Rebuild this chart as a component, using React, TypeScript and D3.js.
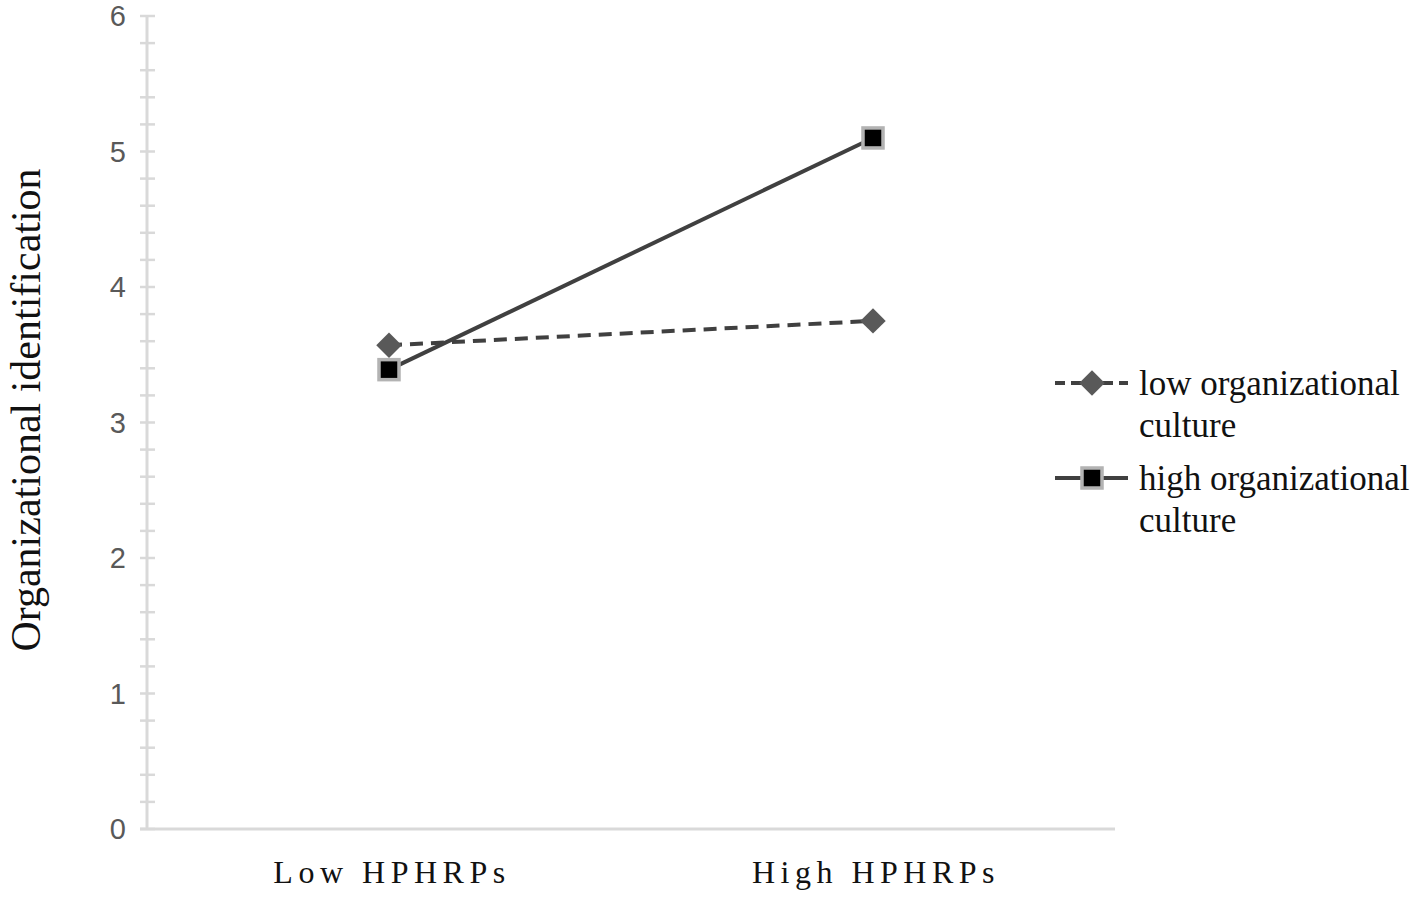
import React from "react";
import * as d3 from "d3";

const categories = ["Low HPHRPs", "High HPHRPs"];
const lowCulture = [3.57, 3.75];
const highCulture = [3.39, 5.1];
const seriesNames = ["low organizational culture", "high organizational culture"];
const yTicks = [0, 1, 2, 3, 4, 5, 6];

const W = 1418;
const H = 899;
const left = 147;
const right = 1115;
const top = 16;
const bottom = 829;

const App = () => {
  const x = d3.scaleBand().domain(categories).range([left, right]);
  const y = d3.scaleLinear().domain([0, 6]).range([bottom, top]);
  const minor = d3.range(0, 6.0001, 0.2);
  const line = d3
    .line<number>()
    .x((_, i) => (x(categories[i]) as number) + x.bandwidth() / 2)
    .y((d) => y(d));

  const series = [
    { name: seriesNames[0], values: lowCulture, dash: "13,8", marker: "diamond" },
    { name: seriesNames[1], values: highCulture, dash: "", marker: "square" },
  ];

  const marker = (type: string, cx: number, cy: number, key: string) =>
    type === "diamond" ? (
      <rect
        key={key}
        x={cx - 9}
        y={cy - 9}
        width={18}
        height={18}
        fill="#595959"
        transform={`rotate(45 ${cx} ${cy})`}
      />
    ) : (
      <rect
        key={key}
        x={cx - 10}
        y={cy - 10}
        width={20}
        height={20}
        fill="#000"
        stroke="#b3b3b3"
        strokeWidth={3.5}
      />
    );

  const legendY = [383, 478];
  const legendLines = [
    ["low organizational", "culture"],
    ["high organizational", "culture"],
  ];

  return (
    <svg width={W} height={H} style={{ position: "absolute", left: 0, top: 0, background: "#fff" }}>
      {/* axes */}
      <line x1={left} x2={left} y1={top} y2={bottom} stroke="#d9d9d9" strokeWidth={3} />
      <line x1={140} x2={right} y1={bottom} y2={bottom} stroke="#d9d9d9" strokeWidth={3} />
      {minor.map((v, i) => (
        <line key={i} x1={140} x2={155} y1={y(v)} y2={y(v)} stroke="#d9d9d9" strokeWidth={2.5} />
      ))}
      {yTicks.map((t) => (
        <text
          key={t}
          x={126}
          y={y(t) + 10}
          textAnchor="end"
          fontFamily="Liberation Sans, Arial, sans-serif"
          fontSize={29}
          fill="#595959"
        >
          {t}
        </text>
      ))}
      {categories.map((c) => (
        <text
          key={c}
          x={(x(c) as number) + x.bandwidth() / 2 + 3}
          y={883}
          textAnchor="middle"
          fontFamily="Liberation Serif, Times New Roman, serif"
          fontSize={32}
          letterSpacing={5.5}
          fill="#111"
        >
          {c}
        </text>
      ))}
      <text
        transform="translate(40,410) rotate(-90)"
        textAnchor="middle"
        fontFamily="Liberation Serif, Times New Roman, serif"
        fontSize={42}
        fill="#111"
      >
        Organizational identification
      </text>

      {/* series */}
      {series.map((s) => (
        <g key={s.name}>
          <path d={line(s.values) || ""} fill="none" stroke="#404040" strokeWidth={4} strokeDasharray={s.dash} />
          {s.values.map((v, i) =>
            marker(s.marker, (x(categories[i]) as number) + x.bandwidth() / 2, y(v), `${s.name}${i}`)
          )}
        </g>
      ))}

      {/* legend */}
      {series.map((s, i) => (
        <g key={`lg${i}`}>
          <line
            x1={1055}
            x2={1128}
            y1={legendY[i]}
            y2={legendY[i]}
            stroke="#404040"
            strokeWidth={4}
            strokeDasharray={s.dash ? "10,6" : ""}
          />
          {marker(s.marker, 1092, legendY[i], `lm${i}`)}
          {legendLines[i].map((t, j) => (
            <text
              key={t}
              x={1139}
              y={legendY[i] + 12 + j * 42}
              fontFamily="Liberation Serif, Times New Roman, serif"
              fontSize={35}
              fill="#111"
            >
              {t}
            </text>
          ))}
        </g>
      ))}
    </svg>
  );
};

export default App;
